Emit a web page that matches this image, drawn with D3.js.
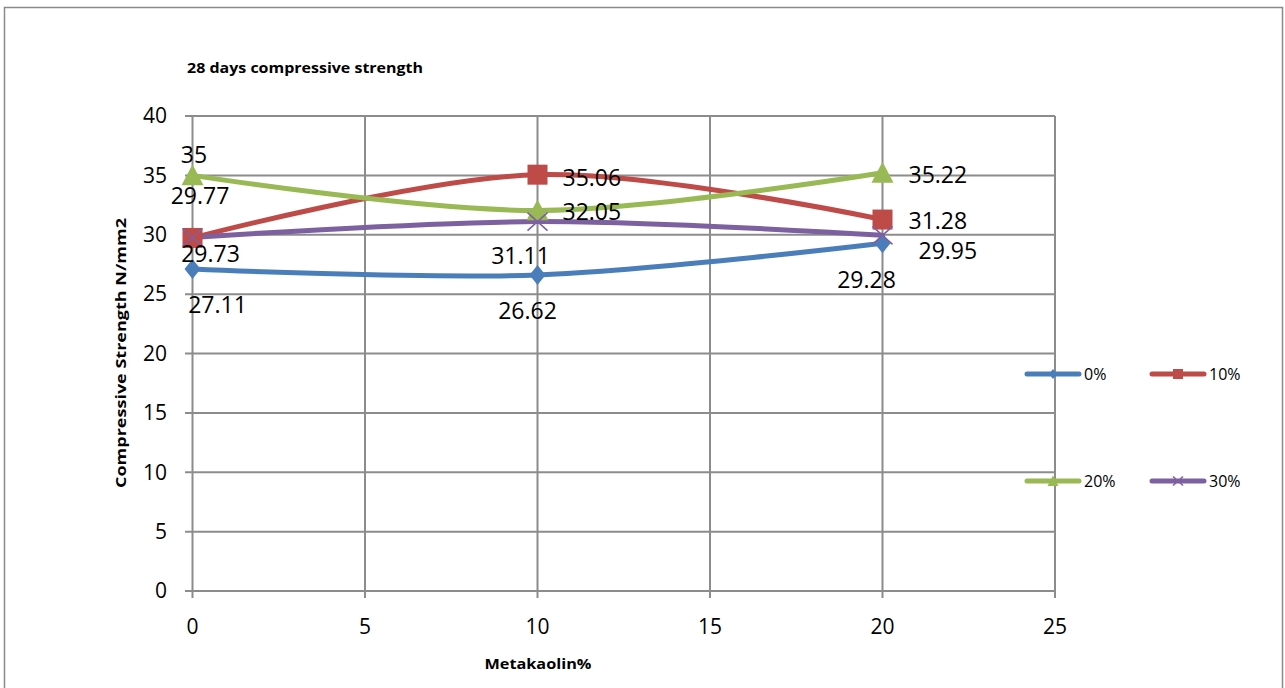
<!DOCTYPE html>
<html>
<head>
<meta charset="utf-8">
<script src="https://cdn.jsdelivr.net/npm/d3@7"></script>
<style>
  html, body { margin: 0; padding: 0; background: #fff; }
  svg { display: block; }
  text { font-family: "Open Sans", "Liberation Sans", sans-serif; fill: #000; }
</style>
</head>
<body>
<svg id="chart" width="1285" height="688"></svg>
<script>
// Metakaolin replacement level (x axis)
const metakaolin = [0, 10, 20];
// Series names (legend)
const seriesNames = ["0%", "10%", "20%", "30%"];
// 28 day compressive strength, N/mm2, one array per series
const strength0  = [27.11, 26.62, 29.28];
const strength10 = [29.73, 35.06, 31.28];
const strength20 = [35, 32.05, 35.22];
const strength30 = [29.77, 31.11, 29.95];
// Axis ticks
const xTicks = [0, 5, 10, 15, 20, 25];
const yTicks = [0, 5, 10, 15, 20, 25, 30, 35, 40];

const seriesValues = [strength0, strength10, strength20, strength30];
const colors = ["#4a7ebb", "#be4b48", "#98b954", "#7d60a0"];
const markers = ["diamond", "square", "triangle", "cross"];

// Label offsets from each point: [dx, dy, anchor] (dy to the text's visual centre)
const labelPlacement = [
  [[25, 36, "middle"], [-10, 36, "middle"], [-16, 37, "middle"]],
  [[18, 16, "middle"], [25, 3, "start"], [26, 1, "start"]],
  [[1.5, -20, "middle"], [25, 2, "start"], [26, 2, "start"]],
  [[7.5, -42, "middle"], [-17, 34, "middle"], [36, 16, "start"]]
];

const svg = d3.select("#chart");

// outer frame
svg.append("rect")
  .attr("x", 4.5).attr("y", 7.5)
  .attr("width", 1278).attr("height", 700)
  .attr("fill", "none").attr("stroke", "#8a8a8a").attr("stroke-width", 1.5);

const x = d3.scaleLinear().domain([0, 25]).range([192.5, 1055]);
const y = d3.scaleLinear().domain([0, 40]).range([591, 116]);

const grid = svg.append("g");
// horizontal gridlines (extend left as tick marks)
grid.selectAll("line.h").data(yTicks).join("line")
  .attr("x1", 185).attr("x2", x(25))
  .attr("y1", d => y(d)).attr("y2", d => y(d))
  .attr("stroke", "#8c8c8c").attr("stroke-width", 2);
// vertical gridlines (extend down as tick marks)
grid.selectAll("line.v").data(xTicks).join("line")
  .attr("x1", d => x(d)).attr("x2", d => x(d))
  .attr("y1", y(40)).attr("y2", 598)
  .attr("stroke", "#8c8c8c").attr("stroke-width", 2);

// tick labels
svg.append("g").selectAll("text").data(yTicks).join("text")
  .attr("x", 167).attr("y", d => y(d))
  .attr("dy", "0.35em")
  .attr("text-anchor", "end")
  .style("font-size", "21px")
  .text(d => d);
svg.append("g").selectAll("text").data(xTicks).join("text")
  .attr("x", d => x(d)).attr("y", 627)
  .attr("dy", "0.35em")
  .attr("text-anchor", "middle")
  .style("font-size", "21px")
  .text(d => d);

// titles
svg.append("text")
  .attr("x", 187).attr("y", 68).attr("dy", "0.35em")
  .style("font-size", "15px").style("font-weight", "bold")
  .attr("textLength", 236).attr("lengthAdjust", "spacingAndGlyphs")
  .text("28 days compressive strength");
svg.append("text")
  .attr("transform", "translate(121,353) rotate(-90)")
  .attr("text-anchor", "middle").attr("dy", "0.35em")
  .style("font-size", "15px").style("font-weight", "bold")
  .attr("textLength", 270).attr("lengthAdjust", "spacingAndGlyphs")
  .text("Compressive Strength N/mm2");
svg.append("text")
  .attr("x", 538).attr("y", 664).attr("dy", "0.35em")
  .attr("text-anchor", "middle")
  .style("font-size", "15px").style("font-weight", "bold")
  .attr("textLength", 107).attr("lengthAdjust", "spacingAndGlyphs")
  .text("Metakaolin%");

// marker drawing
function drawMarker(g, type, color, cx, cy, scale) {
  const s = scale || 1;
  if (type === "diamond") {
    const w = 8 * s, h = 10 * s;
    g.append("path")
      .attr("d", `M${cx},${cy - h}L${cx + w},${cy}L${cx},${cy + h}L${cx - w},${cy}Z`)
      .attr("fill", color);
  } else if (type === "square") {
    const h = 10 * s;
    g.append("rect")
      .attr("x", cx - h).attr("y", cy - h)
      .attr("width", 2 * h).attr("height", 2 * h)
      .attr("fill", color);
  } else if (type === "triangle") {
    const h = 11 * s;
    g.append("path")
      .attr("d", `M${cx},${cy - h}L${cx + h},${cy + h * 0.9}L${cx - h},${cy + h * 0.9}Z`)
      .attr("fill", color);
  } else {
    const w = 10 * s, h = 9 * s;
    g.append("path")
      .attr("d", `M${cx - w},${cy - h}L${cx + w},${cy + h}M${cx + w},${cy - h}L${cx - w},${cy + h}`)
      .attr("stroke", color).attr("stroke-width", 1.6).attr("fill", "none");
  }
}

const line = d3.line()
  .x((d, i) => x(metakaolin[i]))
  .y(d => y(d))
  .curve(d3.curveCardinal.tension(0));

const plot = svg.append("g");
seriesValues.forEach((vals, si) => {
  plot.append("path")
    .datum(vals)
    .attr("d", line)
    .attr("fill", "none")
    .attr("stroke", colors[si])
    .attr("stroke-width", 5)
    .attr("stroke-linecap", "round");
});
seriesValues.forEach((vals, si) => {
  const g = plot.append("g");
  vals.forEach((v, i) => drawMarker(g, markers[si], colors[si], x(metakaolin[i]), y(v)));
});

// data labels
const labels = svg.append("g");
seriesValues.forEach((vals, si) => {
  vals.forEach((v, i) => {
    const [dx, dy, anchor] = labelPlacement[si][i];
    labels.append("text")
      .attr("x", x(metakaolin[i]) + dx)
      .attr("y", y(v) + dy)
      .attr("dy", "0.35em")
      .attr("text-anchor", anchor)
      .style("font-size", "23px")
      .text(v);
  });
});

// legend
const legendPos = [[1025, 374], [1150, 374], [1025, 481], [1150, 481]];
seriesNames.forEach((name, si) => {
  const [lx, ly] = legendPos[si];
  const g = svg.append("g");
  g.append("line")
    .attr("x1", lx + 2).attr("x2", lx + 54)
    .attr("y1", ly).attr("y2", ly)
    .attr("stroke", colors[si]).attr("stroke-width", 5)
    .attr("stroke-linecap", "round");
  drawMarker(g, markers[si], colors[si], lx + 28, ly, 0.5);
  g.append("text")
    .attr("x", lx + 59).attr("y", ly).attr("dy", "0.35em")
    .style("font-size", "16px")
    .text(name);
});
</script>
</body>
</html>
